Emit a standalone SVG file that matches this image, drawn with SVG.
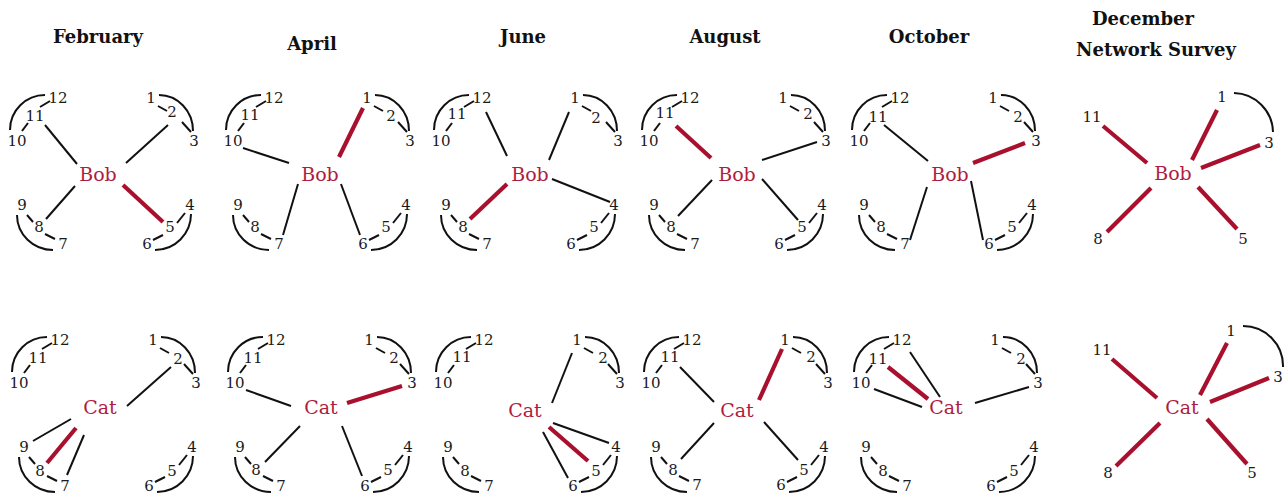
<svg xmlns="http://www.w3.org/2000/svg" width="1288" height="498" viewBox="0 0 1288 498">
<style>
  .t { font-family: "DejaVu Serif", serif; font-weight: bold; font-size: 18px; text-anchor: middle; fill: #111; }
  .n { font-family: "DejaVu Serif", serif; font-size: 15px; text-anchor: middle; fill: #1a1a1a; }
  .h { font-family: "DejaVu Serif", serif; font-size: 19px; text-anchor: middle; fill: #b01c3e; }
  .k { stroke: #111; stroke-width: 2; fill: none; stroke-linecap: butt; }
  .r { stroke: #a8102e; stroke-width: 4.2; fill: none; }
</style>
<defs>
  <!-- fixed friendship ties among the twelve classmates -->
  <g id="ties">
    <path class="k" d="M45,95 A35,35 0 0 0 10,130"/>
    <line class="k" x1="22" y1="131" x2="28" y2="123"/>
    <line class="k" x1="40" y1="107" x2="50" y2="101"/>
    <path class="k" d="M159,95 A34,36 0 0 1 193,131"/>
    <line class="k" x1="158" y1="106" x2="167" y2="111"/>
    <line class="k" x1="182" y1="122" x2="191" y2="132"/>
    <path class="k" d="M17,215 A36,35 0 0 0 53,250"/>
    <line class="k" x1="27" y1="215" x2="33" y2="222"/>
    <line class="k" x1="45" y1="234" x2="55" y2="239"/>
    <path class="k" d="M191,214 A36,36 0 0 1 155,250"/>
    <line class="k" x1="185" y1="213" x2="177" y2="223"/>
    <line class="k" x1="163" y1="235" x2="153" y2="240"/>
  </g>
</defs>

<!-- month titles -->
<g id="titles">
  <text class="t" x="98" y="43">February</text>
  <text class="t" x="312" y="50">April</text>
  <text class="t" x="523" y="43">June</text>
  <text class="t" x="725" y="43">August</text>
  <text class="t" x="929" y="43">October</text>
  <text class="t" x="1143" y="25">December</text>
  <text class="t" x="1156" y="56">Network Survey</text>
</g>

<!-- ===== Bob, February ===== -->
<g id="feb-bob" transform="translate(0,0)">
  <g id="feb-bob-links">
    <use href="#ties"/>
    <line class="k" x1="45" y1="125" x2="77" y2="164"/>
    <line class="k" x1="168" y1="125" x2="126" y2="163"/>
    <line class="k" x1="75" y1="186" x2="46" y2="219"/>
    <line class="r" x1="123" y1="185" x2="163" y2="222"/>
  </g>
  <g id="feb-bob-hub"><text class="h" x="98" y="181">Bob</text></g>
  <g id="feb-bob-n1"><text class="n" x="151" y="103">1</text></g>
  <g id="feb-bob-n2"><text class="n" x="172" y="117">2</text></g>
  <g id="feb-bob-n3"><text class="n" x="194" y="146">3</text></g>
  <g id="feb-bob-n4"><text class="n" x="190" y="210">4</text></g>
  <g id="feb-bob-n5"><text class="n" x="170" y="232">5</text></g>
  <g id="feb-bob-n6"><text class="n" x="147" y="249">6</text></g>
  <g id="feb-bob-n7"><text class="n" x="63" y="249">7</text></g>
  <g id="feb-bob-n8"><text class="n" x="39" y="232">8</text></g>
  <g id="feb-bob-n9"><text class="n" x="22" y="210">9</text></g>
  <g id="feb-bob-n10"><text class="n" x="17" y="146">10</text></g>
  <g id="feb-bob-n11"><text class="n" x="35" y="121">11</text></g>
  <g id="feb-bob-n12"><text class="n" x="58" y="103">12</text></g>
</g>

<!-- ===== Bob, April ===== -->
<g id="apr-bob" transform="translate(216,0)">
  <g id="apr-bob-links">
    <use href="#ties"/>
    <line class="k" x1="27" y1="148" x2="73" y2="163"/>
    <line class="r" x1="147" y1="108" x2="123" y2="157"/>
    <line class="k" x1="82" y1="184" x2="67" y2="235"/>
    <line class="k" x1="125" y1="184" x2="144" y2="235"/>
  </g>
  <g id="apr-bob-hub"><text class="h" x="104" y="181">Bob</text></g>
  <g id="apr-bob-n1"><text class="n" x="151" y="103">1</text></g>
  <g id="apr-bob-n2"><text class="n" x="175" y="121">2</text></g>
  <g id="apr-bob-n3"><text class="n" x="194" y="146">3</text></g>
  <g id="apr-bob-n4"><text class="n" x="190" y="210">4</text></g>
  <g id="apr-bob-n5"><text class="n" x="170" y="232">5</text></g>
  <g id="apr-bob-n6"><text class="n" x="147" y="249">6</text></g>
  <g id="apr-bob-n7"><text class="n" x="63" y="249">7</text></g>
  <g id="apr-bob-n8"><text class="n" x="39" y="232">8</text></g>
  <g id="apr-bob-n9"><text class="n" x="22" y="210">9</text></g>
  <g id="apr-bob-n10"><text class="n" x="17" y="146">10</text></g>
  <g id="apr-bob-n11"><text class="n" x="34" y="120">11</text></g>
  <g id="apr-bob-n12"><text class="n" x="58" y="103">12</text></g>
</g>

<!-- ===== Bob, June ===== -->
<g id="jun-bob" transform="translate(424,0)">
  <g id="jun-bob-links">
    <use href="#ties"/>
    <line class="k" x1="62" y1="112" x2="83" y2="156"/>
    <line class="k" x1="145" y1="112" x2="125" y2="160"/>
    <line class="k" x1="128" y1="179" x2="186" y2="202"/>
    <line class="r" x1="83" y1="184" x2="46" y2="219"/>
  </g>
  <g id="jun-bob-hub"><text class="h" x="106" y="181">Bob</text></g>
  <g id="jun-bob-n1"><text class="n" x="151" y="103">1</text></g>
  <g id="jun-bob-n2"><text class="n" x="172" y="123">2</text></g>
  <g id="jun-bob-n3"><text class="n" x="194" y="146">3</text></g>
  <g id="jun-bob-n4"><text class="n" x="190" y="210">4</text></g>
  <g id="jun-bob-n5"><text class="n" x="170" y="232">5</text></g>
  <g id="jun-bob-n6"><text class="n" x="147" y="249">6</text></g>
  <g id="jun-bob-n7"><text class="n" x="63" y="249">7</text></g>
  <g id="jun-bob-n8"><text class="n" x="39" y="232">8</text></g>
  <g id="jun-bob-n9"><text class="n" x="22" y="210">9</text></g>
  <g id="jun-bob-n10"><text class="n" x="17" y="146">10</text></g>
  <g id="jun-bob-n11"><text class="n" x="33" y="119">11</text></g>
  <g id="jun-bob-n12"><text class="n" x="58" y="103">12</text></g>
</g>

<!-- ===== Bob, August ===== -->
<g id="aug-bob" transform="translate(632,0)">
  <g id="aug-bob-links">
    <use href="#ties"/>
    <line class="r" x1="44" y1="126" x2="79" y2="158"/>
    <line class="k" x1="130" y1="160" x2="185" y2="142"/>
    <line class="k" x1="80" y1="180" x2="46" y2="216"/>
    <line class="k" x1="130" y1="179" x2="166" y2="220"/>
  </g>
  <g id="aug-bob-hub"><text class="h" x="105" y="181">Bob</text></g>
  <g id="aug-bob-n1"><text class="n" x="151" y="103">1</text></g>
  <g id="aug-bob-n2"><text class="n" x="176" y="119">2</text></g>
  <g id="aug-bob-n3"><text class="n" x="194" y="146">3</text></g>
  <g id="aug-bob-n4"><text class="n" x="190" y="210">4</text></g>
  <g id="aug-bob-n5"><text class="n" x="170" y="232">5</text></g>
  <g id="aug-bob-n6"><text class="n" x="147" y="249">6</text></g>
  <g id="aug-bob-n7"><text class="n" x="63" y="249">7</text></g>
  <g id="aug-bob-n8"><text class="n" x="39" y="232">8</text></g>
  <g id="aug-bob-n9"><text class="n" x="22" y="210">9</text></g>
  <g id="aug-bob-n10"><text class="n" x="17" y="146">10</text></g>
  <g id="aug-bob-n11"><text class="n" x="33" y="118">11</text></g>
  <g id="aug-bob-n12"><text class="n" x="58" y="103">12</text></g>
</g>

<!-- ===== Bob, October ===== -->
<g id="oct-bob" transform="translate(842,0)">
  <g id="oct-bob-links">
    <use href="#ties"/>
    <line class="k" x1="42" y1="125" x2="86" y2="161"/>
    <line class="r" x1="131" y1="163" x2="183" y2="143"/>
    <line class="k" x1="85" y1="187" x2="68" y2="240"/>
    <line class="k" x1="129" y1="181" x2="141" y2="240"/>
  </g>
  <g id="oct-bob-hub"><text class="h" x="108" y="181">Bob</text></g>
  <g id="oct-bob-n1"><text class="n" x="151" y="103">1</text></g>
  <g id="oct-bob-n2"><text class="n" x="176" y="122">2</text></g>
  <g id="oct-bob-n3"><text class="n" x="194" y="146">3</text></g>
  <g id="oct-bob-n4"><text class="n" x="190" y="210">4</text></g>
  <g id="oct-bob-n5"><text class="n" x="170" y="232">5</text></g>
  <g id="oct-bob-n6"><text class="n" x="147" y="249">6</text></g>
  <g id="oct-bob-n7"><text class="n" x="63" y="249">7</text></g>
  <g id="oct-bob-n8"><text class="n" x="39" y="232">8</text></g>
  <g id="oct-bob-n9"><text class="n" x="22" y="210">9</text></g>
  <g id="oct-bob-n10"><text class="n" x="17" y="146">10</text></g>
  <g id="oct-bob-n11"><text class="n" x="36" y="122">11</text></g>
  <g id="oct-bob-n12"><text class="n" x="58" y="103">12</text></g>
</g>

<!-- ===== Bob, December survey ===== -->
<g id="dec-bob">
  <g id="dec-bob-links">
    <path class="k" d="M1234,93 A40,40 0 0 1 1273,132"/>
    <line class="r" x1="1217" y1="110" x2="1192" y2="160"/>
    <line class="r" x1="1260" y1="145" x2="1201" y2="168"/>
    <line class="r" x1="1103" y1="126" x2="1147" y2="163"/>
    <line class="r" x1="1151" y1="188" x2="1107" y2="232"/>
    <line class="r" x1="1198" y1="187" x2="1237" y2="229"/>
  </g>
  <g id="dec-bob-hub"><text class="h" x="1173" y="180">Bob</text></g>
  <g id="dec-bob-n1"><text class="n" x="1222" y="102">1</text></g>
  <g id="dec-bob-n3"><text class="n" x="1269" y="148">3</text></g>
  <g id="dec-bob-n5"><text class="n" x="1243" y="244">5</text></g>
  <g id="dec-bob-n8"><text class="n" x="1098" y="244">8</text></g>
  <g id="dec-bob-n11"><text class="n" x="1092" y="122">11</text></g>
</g>

<!-- ===== Cat, February ===== -->
<g id="feb-cat" transform="translate(2,242)">
  <g id="feb-cat-links">
    <use href="#ties"/>
    <line class="k" x1="169" y1="125" x2="125" y2="164"/>
    <line class="k" x1="69" y1="177" x2="31" y2="199"/>
    <line class="r" x1="74" y1="186" x2="45" y2="221"/>
    <line class="k" x1="82" y1="193" x2="65" y2="233"/>
  </g>
  <g id="feb-cat-hub"><text class="h" x="98" y="172">Cat</text></g>
  <g id="feb-cat-n1"><text class="n" x="151" y="103">1</text></g>
  <g id="feb-cat-n2"><text class="n" x="176" y="122">2</text></g>
  <g id="feb-cat-n3"><text class="n" x="194" y="146">3</text></g>
  <g id="feb-cat-n4"><text class="n" x="190" y="210">4</text></g>
  <g id="feb-cat-n5"><text class="n" x="170" y="234">5</text></g>
  <g id="feb-cat-n6"><text class="n" x="147" y="249">6</text></g>
  <g id="feb-cat-n7"><text class="n" x="63" y="249">7</text></g>
  <g id="feb-cat-n8"><text class="n" x="38" y="234">8</text></g>
  <g id="feb-cat-n9"><text class="n" x="22" y="210">9</text></g>
  <g id="feb-cat-n10"><text class="n" x="17" y="146">10</text></g>
  <g id="feb-cat-n11"><text class="n" x="36" y="121">11</text></g>
  <g id="feb-cat-n12"><text class="n" x="58" y="103">12</text></g>
</g>

<!-- ===== Cat, April ===== -->
<g id="apr-cat" transform="translate(218,242)">
  <g id="apr-cat-links">
    <use href="#ties"/>
    <line class="k" x1="28" y1="148" x2="73" y2="164"/>
    <line class="r" x1="129" y1="161" x2="184" y2="144"/>
    <line class="k" x1="82" y1="184" x2="47" y2="220"/>
    <line class="k" x1="124" y1="184" x2="144" y2="234"/>
  </g>
  <g id="apr-cat-hub"><text class="h" x="103" y="172">Cat</text></g>
  <g id="apr-cat-n1"><text class="n" x="151" y="103">1</text></g>
  <g id="apr-cat-n2"><text class="n" x="176" y="121">2</text></g>
  <g id="apr-cat-n3"><text class="n" x="194" y="146">3</text></g>
  <g id="apr-cat-n4"><text class="n" x="190" y="210">4</text></g>
  <g id="apr-cat-n5"><text class="n" x="170" y="233">5</text></g>
  <g id="apr-cat-n6"><text class="n" x="147" y="249">6</text></g>
  <g id="apr-cat-n7"><text class="n" x="63" y="249">7</text></g>
  <g id="apr-cat-n8"><text class="n" x="38" y="233">8</text></g>
  <g id="apr-cat-n9"><text class="n" x="22" y="210">9</text></g>
  <g id="apr-cat-n10"><text class="n" x="17" y="146">10</text></g>
  <g id="apr-cat-n11"><text class="n" x="35" y="121">11</text></g>
  <g id="apr-cat-n12"><text class="n" x="58" y="103">12</text></g>
</g>

<!-- ===== Cat, June ===== -->
<g id="jun-cat" transform="translate(426,242)">
  <g id="jun-cat-links">
    <use href="#ties"/>
    <line class="k" x1="146" y1="111" x2="126" y2="161"/>
    <line class="k" x1="127" y1="181" x2="183" y2="201"/>
    <line class="r" x1="123" y1="185" x2="162" y2="219"/>
    <line class="k" x1="117" y1="190" x2="142" y2="236"/>
  </g>
  <g id="jun-cat-hub"><text class="h" x="99" y="175">Cat</text></g>
  <g id="jun-cat-n1"><text class="n" x="151" y="103">1</text></g>
  <g id="jun-cat-n2"><text class="n" x="177" y="121">2</text></g>
  <g id="jun-cat-n3"><text class="n" x="194" y="146">3</text></g>
  <g id="jun-cat-n4"><text class="n" x="190" y="210">4</text></g>
  <g id="jun-cat-n5"><text class="n" x="170" y="234">5</text></g>
  <g id="jun-cat-n6"><text class="n" x="147" y="249">6</text></g>
  <g id="jun-cat-n7"><text class="n" x="63" y="249">7</text></g>
  <g id="jun-cat-n8"><text class="n" x="39" y="234">8</text></g>
  <g id="jun-cat-n9"><text class="n" x="22" y="210">9</text></g>
  <g id="jun-cat-n10"><text class="n" x="17" y="146">10</text></g>
  <g id="jun-cat-n11"><text class="n" x="36" y="120">11</text></g>
  <g id="jun-cat-n12"><text class="n" x="58" y="103">12</text></g>
</g>

<!-- ===== Cat, August ===== -->
<g id="aug-cat" transform="translate(634,242)">
  <g id="aug-cat-links">
    <use href="#ties"/>
    <line class="k" x1="46" y1="125" x2="80" y2="160"/>
    <line class="r" x1="148" y1="107" x2="125" y2="158"/>
    <line class="k" x1="80" y1="181" x2="47" y2="217"/>
    <line class="k" x1="130" y1="180" x2="164" y2="218"/>
  </g>
  <g id="aug-cat-hub"><text class="h" x="103" y="175">Cat</text></g>
  <g id="aug-cat-n1"><text class="n" x="151" y="103">1</text></g>
  <g id="aug-cat-n2"><text class="n" x="177" y="120">2</text></g>
  <g id="aug-cat-n3"><text class="n" x="194" y="146">3</text></g>
  <g id="aug-cat-n4"><text class="n" x="190" y="210">4</text></g>
  <g id="aug-cat-n5"><text class="n" x="170" y="233">5</text></g>
  <g id="aug-cat-n6"><text class="n" x="147" y="248">6</text></g>
  <g id="aug-cat-n7"><text class="n" x="63" y="248">7</text></g>
  <g id="aug-cat-n8"><text class="n" x="39" y="233">8</text></g>
  <g id="aug-cat-n9"><text class="n" x="22" y="210">9</text></g>
  <g id="aug-cat-n10"><text class="n" x="17" y="146">10</text></g>
  <g id="aug-cat-n11"><text class="n" x="36" y="120">11</text></g>
  <g id="aug-cat-n12"><text class="n" x="58" y="103">12</text></g>
</g>

<!-- ===== Cat, October ===== -->
<g id="oct-cat" transform="translate(844,242)">
  <g id="oct-cat-links">
    <use href="#ties"/>
    <line class="k" x1="66" y1="110" x2="96" y2="155"/>
    <line class="r" x1="44" y1="125" x2="84" y2="157"/>
    <line class="k" x1="30" y1="147" x2="78" y2="165"/>
    <line class="k" x1="131" y1="161" x2="185" y2="145"/>
  </g>
  <g id="oct-cat-hub"><text class="h" x="102" y="172">Cat</text></g>
  <g id="oct-cat-n1"><text class="n" x="151" y="103">1</text></g>
  <g id="oct-cat-n2"><text class="n" x="177" y="122">2</text></g>
  <g id="oct-cat-n3"><text class="n" x="194" y="146">3</text></g>
  <g id="oct-cat-n4"><text class="n" x="190" y="210">4</text></g>
  <g id="oct-cat-n5"><text class="n" x="170" y="234">5</text></g>
  <g id="oct-cat-n6"><text class="n" x="147" y="249">6</text></g>
  <g id="oct-cat-n7"><text class="n" x="63" y="249">7</text></g>
  <g id="oct-cat-n8"><text class="n" x="39" y="234">8</text></g>
  <g id="oct-cat-n9"><text class="n" x="22" y="210">9</text></g>
  <g id="oct-cat-n10"><text class="n" x="17" y="146">10</text></g>
  <g id="oct-cat-n11"><text class="n" x="34" y="122">11</text></g>
  <g id="oct-cat-n12"><text class="n" x="58" y="103">12</text></g>
</g>

<!-- ===== Cat, December survey ===== -->
<g id="dec-cat">
  <g id="dec-cat-links">
    <path class="k" d="M1243,326 A40,40 0 0 1 1283,367"/>
    <line class="r" x1="1227" y1="343" x2="1200" y2="395"/>
    <line class="r" x1="1269" y1="378" x2="1210" y2="402"/>
    <line class="r" x1="1112" y1="359" x2="1157" y2="398"/>
    <line class="r" x1="1160" y1="423" x2="1116" y2="466"/>
    <line class="r" x1="1207" y1="419" x2="1247" y2="464"/>
  </g>
  <g id="dec-cat-hub"><text class="h" x="1182" y="414">Cat</text></g>
  <g id="dec-cat-n1"><text class="n" x="1231" y="336">1</text></g>
  <g id="dec-cat-n3"><text class="n" x="1278" y="382">3</text></g>
  <g id="dec-cat-n5"><text class="n" x="1252" y="478">5</text></g>
  <g id="dec-cat-n8"><text class="n" x="1108" y="478">8</text></g>
  <g id="dec-cat-n11"><text class="n" x="1102" y="355">11</text></g>
</g>
</svg>
